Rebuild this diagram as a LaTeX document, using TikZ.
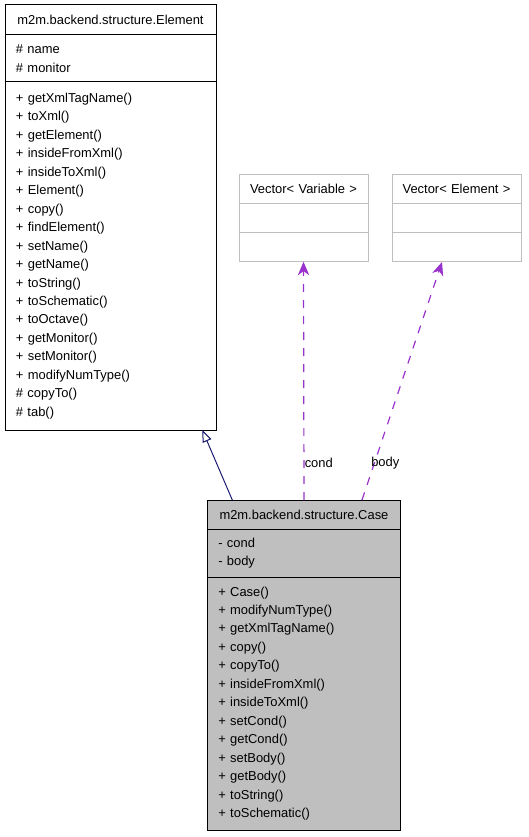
\documentclass[tikz,border=0pt]{standalone}
\usepackage{fontspec}
\setmainfont{Liberation Sans}
\usepackage{xcolor}
\usepackage{tikz}
\usetikzlibrary{calc, arrows.meta, positioning}
\definecolor{doxgray}{RGB}{191, 191, 191}
\definecolor{doxnavy}{RGB}{25, 25, 112}
\definecolor{doxpurple}{RGB}{154, 50, 205}
\newcommand{\doxfont}{\fontsize{9.7}{13.85}\selectfont}
\tikzset{
    classnode/.style = {draw, rectangle, outer sep=0pt, inner ysep=0pt, line width=0.75pt,
      font=\doxfont, node distance=0em},
    headnode/.style = {classnode, inner xsep=0pt, align=center},
    listnode/.style = {classnode, inner xsep=8.25pt, align=left},
    textnode/.style = {draw=none, fill=none, rectangle, inner sep=0em, font=\doxfont},
    inherit/.style = {doxnavy, line width=0.75pt, -{Triangle[open, length=9pt, width=7pt]}},
    uses/.style = {doxpurple, line width=0.9pt, dash pattern=on 6pt off 6pt,
      -{Stealth[length=10pt, width=8.5pt, inset=3pt]}}
}

\begin{document}
\begin{tikzpicture}[x=0.75pt, y=-0.75pt]
    \useasboundingbox (0,0) rectangle (528,837);

    % base class
    \node [name = ElemHead, headnode, anchor=north west, text width=158.25pt, minimum height=22.5pt]
        at (5,5) {m2m.backend.structure.Element};
    \node [name = ElemAttr, listnode, below = of ElemHead, text width=141.75pt, minimum height=35.25pt]
        {\# name\\ \# monitor};
    \node [name = ElemMeth, listnode, below = of ElemAttr, text width=141.75pt, minimum height=261pt]
        {+ getXmlTagName()\\ + toXml()\\ + getElement()\\ + insideFromXml()\\ + insideToXml()\\
         + Element()\\ + copy()\\ + findElement()\\ + setName()\\ + getName()\\ + toString()\\
         + toSchematic()\\ + toOctave()\\ + getMonitor()\\ + setMonitor()\\ + modifyNumType()\\
         \# copyTo()\\ \# tab()};

    % template classes
    \node [name = VarHead, headnode, draw=doxgray, anchor=north west, text width=96.75pt, minimum height=21.75pt]
        at (239,174.5) {Vector< Variable >};
    \node [name = VarAttr, headnode, draw=doxgray, below = of VarHead, text width=96.75pt, minimum height=22pt] {};
    \node [name = VarMeth, headnode, draw=doxgray, below = of VarAttr, text width=96.75pt, minimum height=21.75pt] {};

    \node [name = VecHead, headnode, draw=doxgray, anchor=north west, text width=96.75pt, minimum height=21.75pt]
        at (392,174.5) {Vector< Element >};
    \node [name = VecAttr, headnode, draw=doxgray, below = of VecHead, text width=96.75pt, minimum height=22pt] {};
    \node [name = VecMeth, headnode, draw=doxgray, below = of VecAttr, text width=96.75pt, minimum height=21.75pt] {};

    % derived class
    \node [name = CaseHead, headnode, fill=doxgray, anchor=north west, text width=145pt, minimum height=21.75pt]
        at (207.3,500) {m2m.backend.structure.Case};
    \node [name = CaseAttr, listnode, fill=doxgray, below = of CaseHead, text width=128.5pt, minimum height=36pt]
        {- cond\\ - body};
    \node [name = CaseMeth, listnode, fill=doxgray, below = of CaseAttr, text width=128.5pt, minimum height=189.75pt]
        {+ Case()\\ + modifyNumType()\\ + getXmlTagName()\\ + copy()\\ + copyTo()\\ + insideFromXml()\\
         + insideToXml()\\ + setCond()\\ + getCond()\\ + setBody()\\ + getBody()\\ + toString()\\
         + toSchematic()};

    \coordinate (InhFrom) at (232.3,500);
    \coordinate (InhTo) at (202.3,430);
    \coordinate (CondFrom) at (304,500);
    \coordinate (BodyFrom) at (362,500);
    \coordinate (BodyTo) at (442,262);

    \draw [inherit] (InhFrom) -- (InhTo);
    \draw [uses] (CondFrom) -- (VarMeth.south);
    \draw [uses] (BodyFrom) -- (BodyTo);

    \node [name = CondLabel, textnode, anchor=west] at (304.5,463) {cond};
    \node [name = BodyLabel, textnode, anchor=west] at (371,463) {body};
\end{tikzpicture}
\end{document}
